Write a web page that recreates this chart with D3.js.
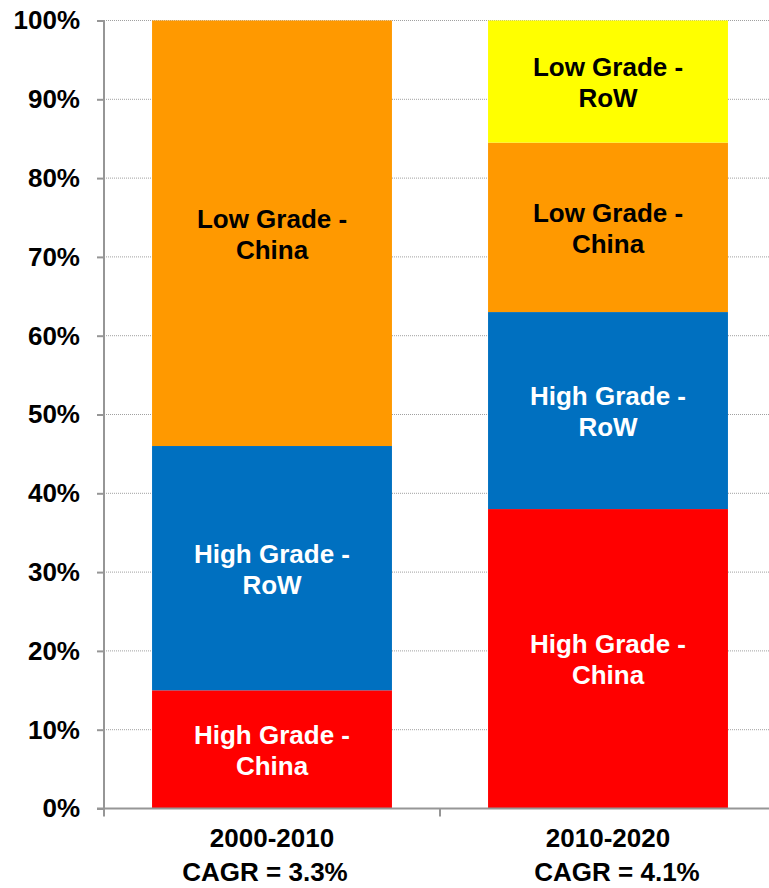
<!DOCTYPE html>
<html><head><meta charset="utf-8">
<script src="https://cdn.jsdelivr.net/npm/d3@7"></script>
<style>body{margin:0;background:#fff}svg{display:block}text{font-family:"Liberation Sans",Arial,sans-serif;font-weight:bold}</style>
</head><body>
<script>
const categories = ["2000-2010", "2010-2020"];
const cagrLabels = ["CAGR = 3.3%", "CAGR = 4.1%"];
const seriesNames = ["High Grade - China", "High Grade - RoW", "Low Grade - China", "Low Grade - RoW"];
const hgChina = [15, 38];
const hgRow = [31, 25];
const lgChina = [54, 21.5];
const lgRow = [0, 15.5];
const yTicks = [0,10,20,30,40,50,60,70,80,90,100];
const colors = ["#FF0000", "#0070C0", "#FF9900", "#FFFF00"];
const textColors = ["#FFFFFF", "#FFFFFF", "#000000", "#000000"];
const labelLines = [["High Grade -","China"],["High Grade -","RoW"],["Low Grade -","China"],["Low Grade -","RoW"]];

const W = 769, H = 888;
const svg = d3.select("body").append("svg").attr("width", W).attr("height", H);
const x0 = 104, x1 = 776, yTop = 20.5, yBot = 808.5;
const x = d3.scaleBand().domain(categories).range([x0, x1]).paddingInner(0.286).paddingOuter(0.143);
const band = d3.scaleBand().domain(categories).range([x0, x1]);
const y = d3.scaleLinear().domain([0, 100]).range([yBot, yTop]);

const table = categories.map((c, i) => ({cat: c, s0: hgChina[i], s1: hgRow[i], s2: lgChina[i], s3: lgRow[i]}));
const stack = d3.stack().keys(["s0","s1","s2","s3"])(table);

// gridlines
svg.append("g").selectAll("line").data(yTicks.filter(t => t > 0)).join("line")
  .attr("x1", x0).attr("x2", W).attr("y1", d => y(d)).attr("y2", d => y(d))
  .attr("stroke", "#a0a0a0").attr("stroke-width", 1).attr("stroke-dasharray", "1,1");

// bars
stack.forEach((layer, k) => {
  const g = svg.append("g");
  layer.forEach((d, i) => {
    if (d[1] - d[0] <= 0) return;
    g.append("rect").attr("x", x(d.data.cat)).attr("width", x.bandwidth())
      .attr("y", y(d[1])).attr("height", y(d[0]) - y(d[1])).attr("fill", colors[k]);
    const cy = (y(d[0]) + y(d[1])) / 2 + 1;
    const cx = x(d.data.cat) + x.bandwidth() / 2;
    const t = g.append("text").attr("text-anchor", "middle").attr("font-size", 26)
      .attr("fill", textColors[k]).attr("dominant-baseline", "central");
    labelLines[k].forEach((ln, j) => {
      t.append("tspan").attr("x", cx).attr("y", cy + (j === 0 ? -15.5 : 15.5)).text(ln);
    });
  });
});

// y axis
const yAxis = d3.axisLeft(y).tickValues(yTicks).tickFormat(d => d + "%").tickSize(7).tickPadding(17);
const ya = svg.append("g").attr("transform", `translate(${x0},0)`).call(yAxis);
ya.select(".domain").attr("stroke", "#969696").attr("stroke-width", 2).attr("d", `M0,${yTop}V${yBot}`);
ya.selectAll(".tick line").attr("stroke", "#969696").attr("stroke-width", 2);
ya.selectAll(".tick text").attr("font-size", 26).attr("fill", "#000").attr("font-family", '"Liberation Sans",Arial,sans-serif').attr("font-weight", "bold");

// x axis
const xAxis = d3.axisBottom(band).tickSize(0).tickFormat("");
const xa = svg.append("g").attr("transform", `translate(0,${yBot})`).call(xAxis);
xa.select(".domain").attr("stroke", "#969696").attr("stroke-width", 2).attr("d", `M${x0 - 7},0H${W}`);
xa.selectAll(".tick").remove();
xa.selectAll("line.sep").data([x0, band(categories[1]), x1]).join("line").attr("class", "sep")
  .attr("x1", d => d).attr("x2", d => d).attr("y1", 0).attr("y2", 8)
  .attr("stroke", "#969696").attr("stroke-width", 2);

// category labels
const dxCagr = [-7, 9];
categories.forEach((c, i) => {
  const cx = band(c) + band.bandwidth() / 2;
  svg.append("text").attr("x", cx).attr("y", 847).attr("text-anchor", "middle").attr("font-size", 26).attr("fill", "#000").text(c);
  svg.append("text").attr("x", cx + dxCagr[i]).attr("y", 881).attr("text-anchor", "middle").attr("font-size", 26).attr("fill", "#000").text(cagrLabels[i]);
});
</script>
</body></html>
